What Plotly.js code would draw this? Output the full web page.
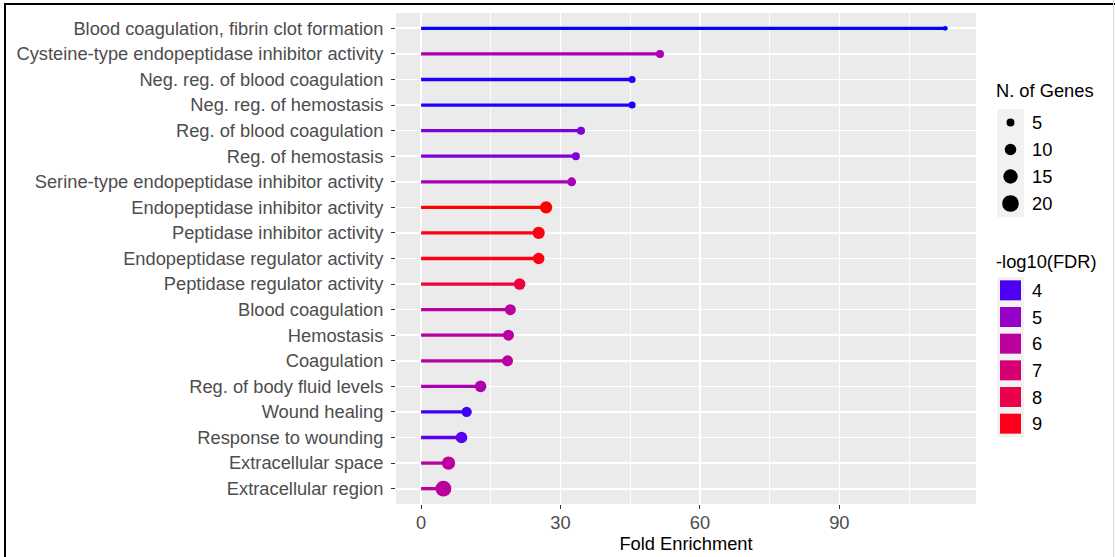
<!DOCTYPE html>
<html>
<head>
<meta charset="utf-8">
<script src="https://cdn.plot.ly/plotly-3.0.1.min.js"></script>
<style>
  html, body { margin: 0; padding: 0; background: #ffffff; }
  #wrap { position: relative; width: 1115px; height: 557px; overflow: hidden; }
  #chart { position: absolute; left: 0; top: 0; width: 1115px; height: 557px; }
  #frame { position: absolute; left: 4px; top: 3px; width: 1120px; height: 600px;
           border-left: 2px solid #000; border-top: 2px solid #000; pointer-events: none; }
  #edge { position: absolute; left: 1113px; top: 0; width: 1px; height: 557px; background: #d9d9d9; }
</style>
</head>
<body>
<div id="wrap">
  <div id="chart"></div>
  <div id="frame"></div>
  <div id="edge"></div>
</div>
<script>
// ---- data (top to bottom as in the chart) ----
const terms = [
  "Blood coagulation, fibrin clot formation",
  "Cysteine-type endopeptidase inhibitor activity",
  "Neg. reg. of blood coagulation",
  "Neg. reg. of hemostasis",
  "Reg. of blood coagulation",
  "Reg. of hemostasis",
  "Serine-type endopeptidase inhibitor activity",
  "Endopeptidase inhibitor activity",
  "Peptidase inhibitor activity",
  "Endopeptidase regulator activity",
  "Peptidase regulator activity",
  "Blood coagulation",
  "Hemostasis",
  "Coagulation",
  "Reg. of body fluid levels",
  "Wound healing",
  "Response to wounding",
  "Extracellular space",
  "Extracellular region"
];
const foldEnrichment = [112.8, 51.4, 45.4, 45.4, 34.4, 33.3, 32.4, 26.9, 25.3, 25.3, 21.2, 19.2, 18.8, 18.6, 12.8, 9.8, 8.7, 5.9, 4.8];
const nGenes         = [2, 5, 4, 4, 5, 5, 6, 11, 11, 10, 10, 9, 9, 9, 10, 8, 10, 13, 18];
const negLog10FDR    = [3.7, 5.6, 3.75, 3.75, 4.6, 4.6, 5.4, 9.3, 9.1, 9.1, 8.3, 5.9, 5.9, 5.9, 5.6, 3.9, 4.1, 6.0, 6.0];

const xTicks = [0, 30, 60, 90];
const sizeBreaks = [5, 10, 15, 20];
const colorBreaks = [4, 5, 6, 7, 8, 9];

// ---- colour scale: blue -> red interpolated in CIE Lab (like ggplot) ----
function srgbToLin(c){ c/=255; return c<=0.04045 ? c/12.92 : Math.pow((c+0.055)/1.055, 2.4); }
function linToSrgb(c){ c = c<=0.0031308 ? 12.92*c : 1.055*Math.pow(c,1/2.4)-0.055; return Math.max(0, Math.min(255, Math.round(c*255))); }
const WX=0.95047, WY=1.0, WZ=1.08883;
function f(t){ return t>0.008856 ? Math.cbrt(t) : (7.787*t + 16/116); }
function finv(t){ return t>0.206893 ? t*t*t : (t-16/116)/7.787; }
function rgbToLab(r,g,b){
  const R=srgbToLin(r), G=srgbToLin(g), B=srgbToLin(b);
  const X=(0.4124*R+0.3576*G+0.1805*B)/WX, Y=(0.2126*R+0.7152*G+0.0722*B)/WY, Z=(0.0193*R+0.1192*G+0.9505*B)/WZ;
  const fx=f(X), fy=f(Y), fz=f(Z);
  return [116*fy-16, 500*(fx-fy), 200*(fy-fz)];
}
function labToRgb(L,a,b){
  const fy=(L+16)/116, fx=fy+a/500, fz=fy-b/200;
  const X=finv(fx)*WX, Y=finv(fy)*WY, Z=finv(fz)*WZ;
  const R= 3.2406*X-1.5372*Y-0.4986*Z, G=-0.9689*X+1.8758*Y+0.0415*Z, B=0.0557*X-0.2040*Y+1.0570*Z;
  return 'rgb('+linToSrgb(R)+','+linToSrgb(G)+','+linToSrgb(B)+')';
}
const labLow = rgbToLab(0,0,255), labHigh = rgbToLab(255,0,0);
const cMin = Math.min(...negLog10FDR), cMax = Math.max(...negLog10FDR);
function colorOf(v){
  const t = Math.max(0, Math.min(1, (v-cMin)/(cMax-cMin)));
  return labToRgb(labLow[0]+(labHigh[0]-labLow[0])*t, labLow[1]+(labHigh[1]-labLow[1])*t, labLow[2]+(labHigh[2]-labLow[2])*t);
}
function sizeOf(n){ return 3.89*Math.sqrt(n) - 0.7; }

// ---- traces ----
const traces = [];
terms.forEach((t,i) => {
  traces.push({
    type: 'scatter', mode: 'lines', x: [0, foldEnrichment[i]], y: [t, t],
    line: {color: colorOf(negLog10FDR[i]), width: 3.3}, hoverinfo: 'skip', showlegend: false
  });
});
traces.push({
  type: 'scatter', mode: 'markers', x: foldEnrichment, y: terms,
  marker: {size: nGenes.map(sizeOf), color: negLog10FDR.map(colorOf), line: {width: 0}, opacity: 1},
  showlegend: false
});

// ---- legends drawn as shapes + annotations (paper coords) ----
const L = 396, R = 976, T = 13, B = 504;
const PX = p => (p - L) / (R - L);
const PY = p => (B - p) / (B - T);
const shapes = [], annotations = [];
const FS = 18.3;
const legFont = {family: 'Liberation Sans, Arial, sans-serif', size: FS, color: '#000000'};

annotations.push({xref:'paper', yref:'paper', x: PX(994), y: PY(91), xanchor:'left', yanchor:'middle', text:'N. of Genes', showarrow:false, font: legFont});
shapes.push({type:'rect', xref:'paper', yref:'paper', x0: PX(997), x1: PX(1024), y0: PY(109), y1: PY(109 + 27*sizeBreaks.length), fillcolor:'#F2F2F2', line:{width:0}, layer:'below'});
sizeBreaks.forEach((s,k) => {
  const cy = 109 + 13.5 + 27*k, d = sizeOf(s);
  shapes.push({type:'circle', xref:'paper', yref:'paper', xsizemode:'pixel', ysizemode:'pixel',
    xanchor: PX(1010.5), yanchor: PY(cy), x0: -d/2, x1: d/2, y0: -d/2, y1: d/2,
    fillcolor:'#000000', line:{width:0}});
  annotations.push({xref:'paper', yref:'paper', x: PX(1030), y: PY(cy), xanchor:'left', yanchor:'middle', text: String(s), showarrow:false, font: legFont});
});

annotations.push({xref:'paper', yref:'paper', x: PX(994), y: PY(261), xanchor:'left', yanchor:'middle', text:'-log10(FDR)', showarrow:false, font: legFont});
shapes.push({type:'rect', xref:'paper', yref:'paper', x0: PX(997), x1: PX(1024), y0: PY(277), y1: PY(277 + 26.67*colorBreaks.length), fillcolor:'#F2F2F2', line:{width:0}, layer:'below'});
colorBreaks.forEach((c,k) => {
  const cy = 277 + 13.33 + 26.67*k;
  shapes.push({type:'rect', xref:'paper', yref:'paper', xsizemode:'pixel', ysizemode:'pixel',
    xanchor: PX(1010.5), yanchor: PY(cy), x0: -10.5, x1: 10.5, y0: -10, y1: 10,
    fillcolor: colorOf(c), line:{width:0}});
  annotations.push({xref:'paper', yref:'paper', x: PX(1030), y: PY(cy), xanchor:'left', yanchor:'middle', text: String(c), showarrow:false, font: legFont});
});

const layout = {
  width: 1115, height: 557,
  margin: {l: L, r: 1115 - R, t: T, b: 557 - B, pad: 0},
  paper_bgcolor: '#ffffff', plot_bgcolor: '#EBEBEB',
  font: {family: 'Liberation Sans, Arial, sans-serif', size: FS, color: '#4D4D4D'},
  showlegend: false,
  xaxis: {
    range: [-5.4, 119.4], tickvals: xTicks, ticktext: xTicks.map(String),
    showgrid: true, gridcolor: '#ffffff', gridwidth: 1.7, zeroline: false, showline: false,
    ticks: 'outside', ticklen: 4, tickwidth: 1, tickcolor: '#333333',
    tickfont: {size: FS, color: '#4D4D4D'}, ticklabelstandoff: -2,
    minor: {tickvals: [15, 45, 75, 105], showgrid: true, gridcolor: '#ffffff', gridwidth: 0.9, ticks: ''},
    title: {text: 'Fold Enrichment', font: {size: FS, color: '#000000'}, standoff: 0},
    fixedrange: true
  },
  yaxis: {
    type: 'category', categoryorder: 'array', categoryarray: terms,
    range: [terms.length - 0.4, -0.6],
    showgrid: true, gridcolor: '#ffffff', gridwidth: 1.7, zeroline: false, showline: false,
    ticks: 'outside', ticklen: 4, tickwidth: 1, tickcolor: '#333333',
    tickfont: {size: FS, color: '#4D4D4D'}, ticklabelstandoff: 4,
    fixedrange: true
  },
  shapes: shapes,
  annotations: annotations
};

Plotly.newPlot('chart', traces, layout, {displayModeBar: false, staticPlot: true});
</script>
</body>
</html>
